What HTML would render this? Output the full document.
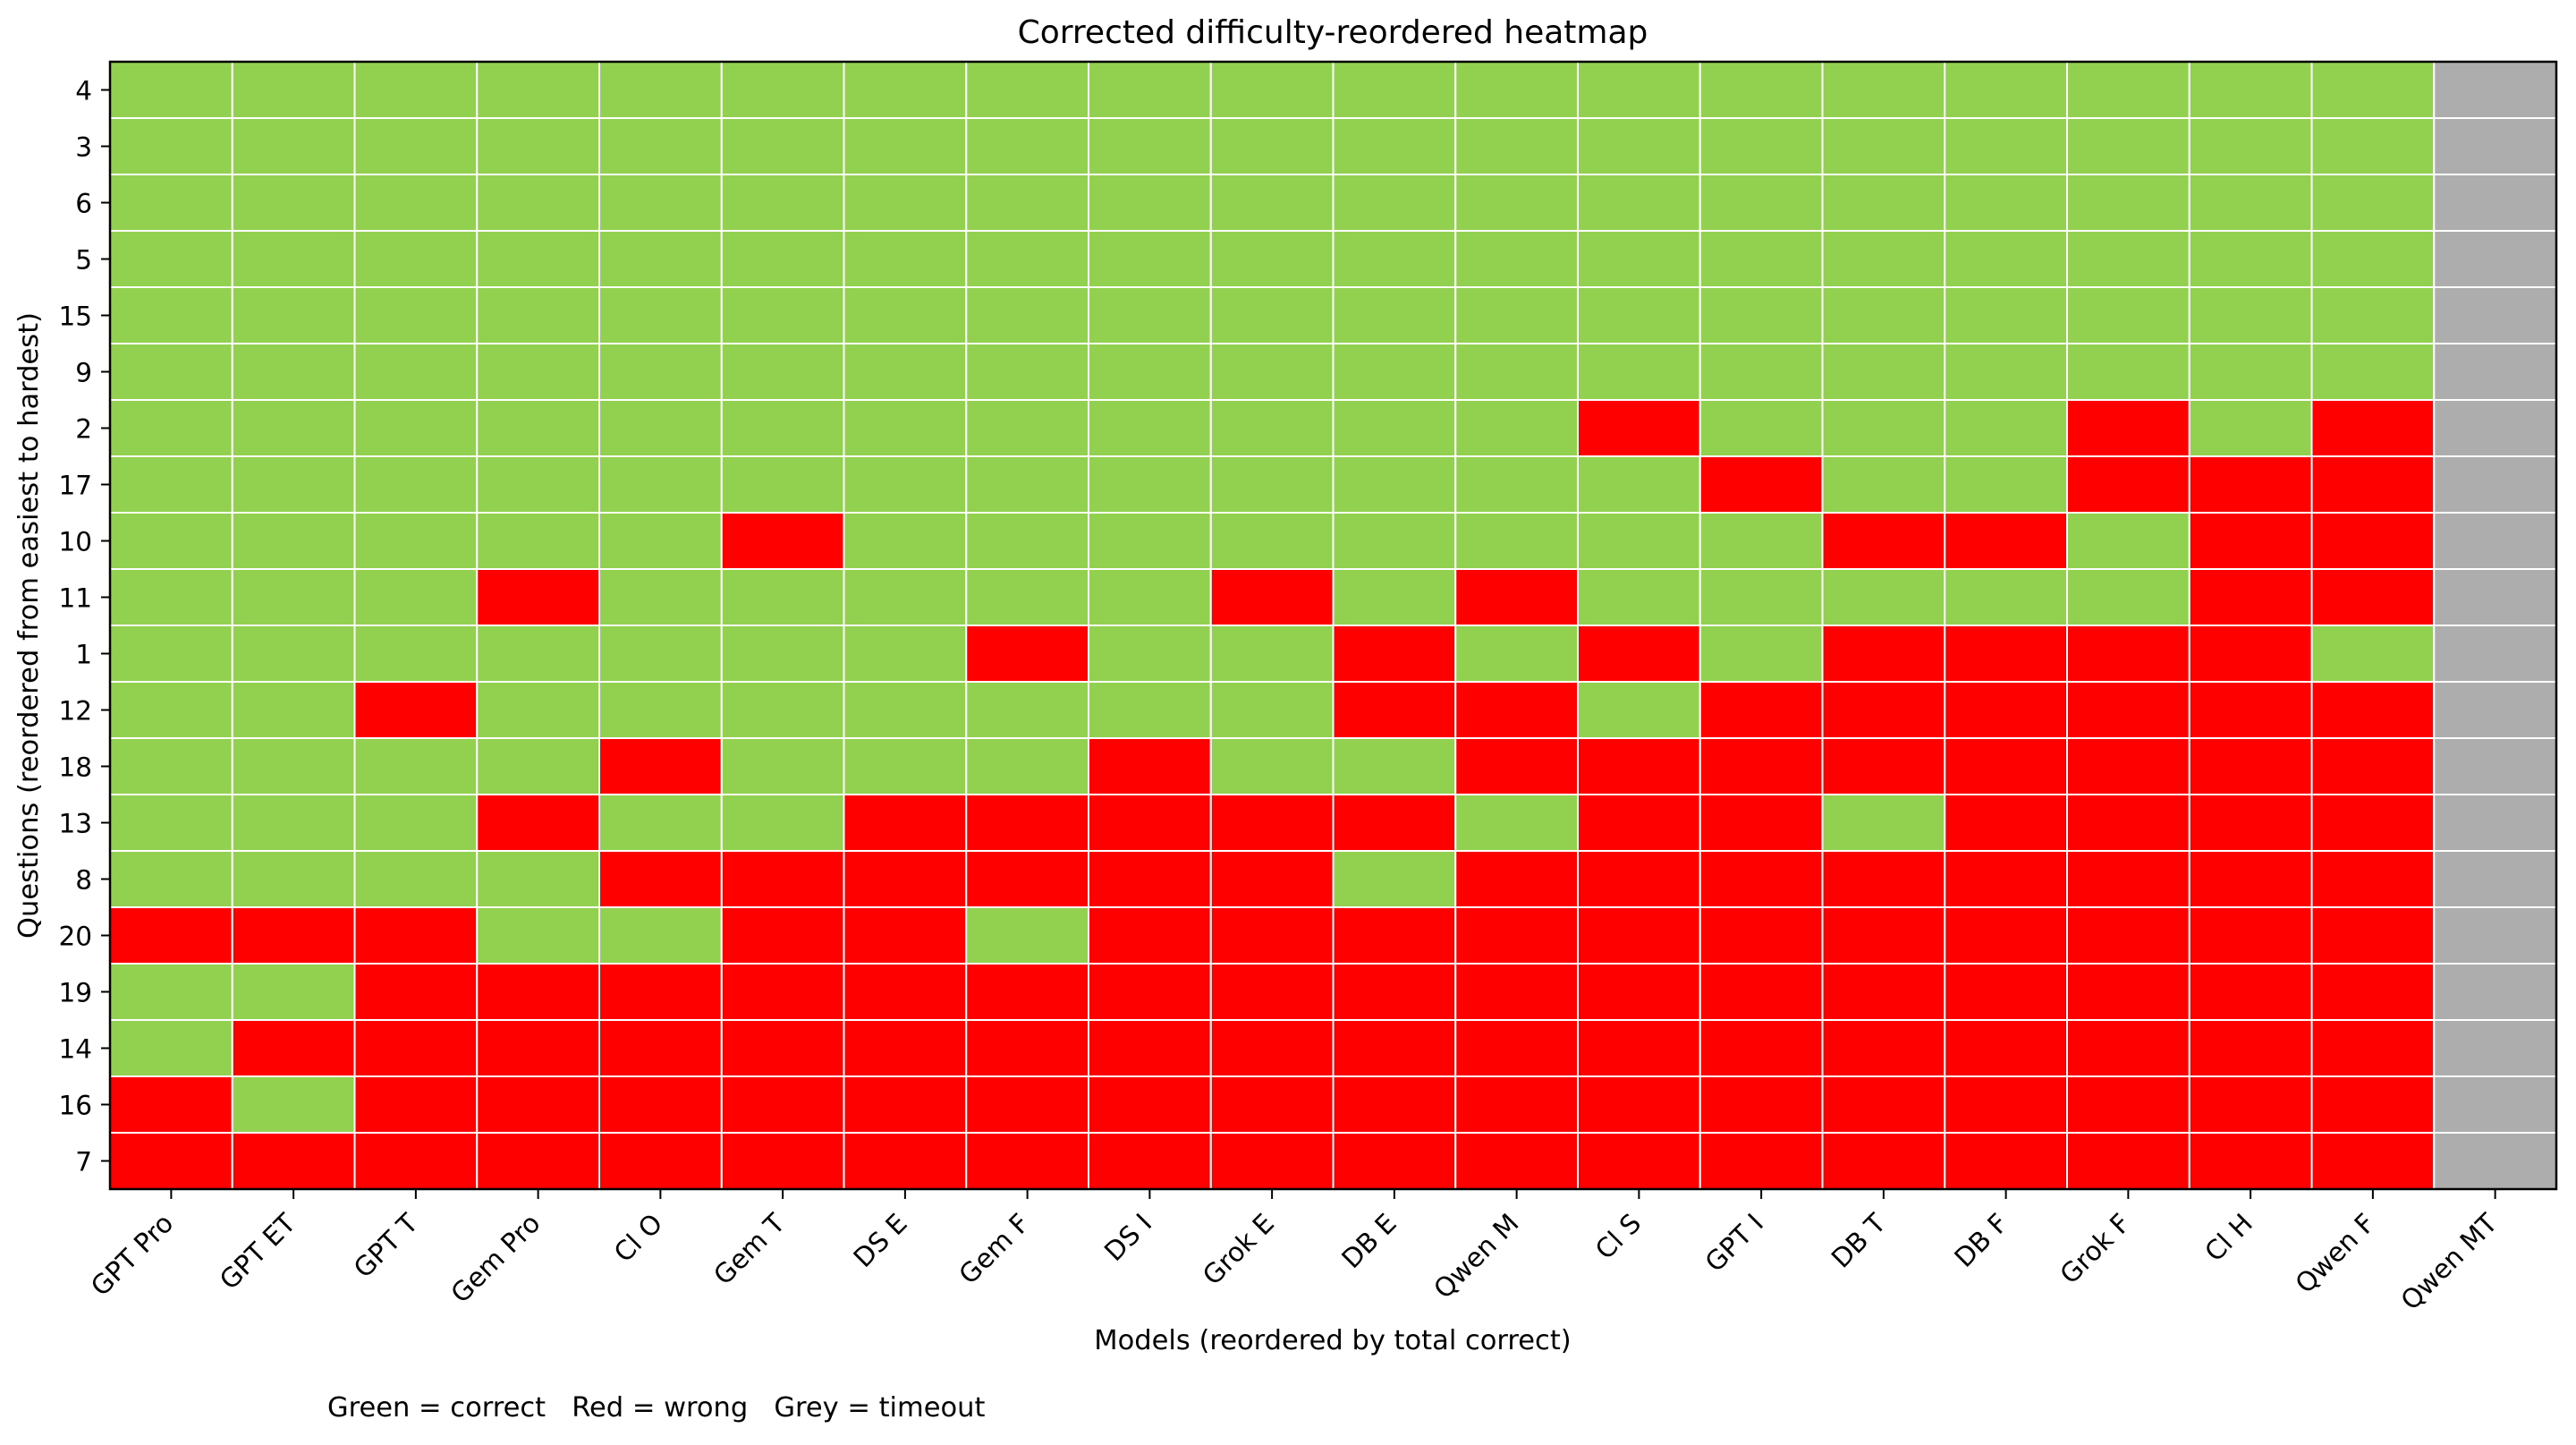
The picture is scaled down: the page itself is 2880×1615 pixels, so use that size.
<!DOCTYPE html>
<html><head><meta charset="utf-8"><style>
html,body{margin:0;padding:0;background:#fff}
svg text{font-family:"DejaVu Sans","Liberation Sans",sans-serif;fill:#000}
</style></head><body>
<svg id="s" width="2880" height="1610" xmlns="http://www.w3.org/2000/svg">
<g id="cells"></g>
<rect x="123" y="69" width="2735" height="1260" fill="none" stroke="#000" stroke-width="2.5"/>
<g id="ticks"></g>
<text x="1490" y="48" font-size="36" text-anchor="middle">Corrected difficulty-reordered heatmap</text>
<text x="1490" y="1508" font-size="30.5" text-anchor="middle">Models (reordered by total correct)</text>
<text x="366" y="1583" font-size="30.5" xml:space="preserve">Green = correct   Red = wrong   Grey = timeout</text>
<text transform="translate(42,699) rotate(-90)" font-size="30.5" text-anchor="middle">Questions (reordered from easiest to hardest)</text>
</svg>
<script>
var rows=["4","3","6","5","15","9","2","17","10","11","1","12","18","13","8","20","19","14","16","7"];
var cols=["GPT Pro","GPT ET","GPT T","Gem Pro","Cl O","Gem T","DS E","Gem F","DS I","Grok E","DB E","Qwen M","Cl S","GPT I","DB T","DB F","Grok F","Cl H","Qwen F","Qwen MT"];
var data=[
"GGGGGGGGGGGGGGGGGGG",
"GGGGGGGGGGGGGGGGGGG",
"GGGGGGGGGGGGGGGGGGG",
"GGGGGGGGGGGGGGGGGGG",
"GGGGGGGGGGGGGGGGGGG",
"GGGGGGGGGGGGGGGGGGG",
"GGGGGGGGGGGGRGGGRGR",
"GGGGGGGGGGGGGRGGRRR",
"GGGGGRGGGGGGGGRRGRR",
"GGGRGGGGGRGRGGGGGRR",
"GGGGGGGRGGRGRGRRRRG",
"GGRGGGGGGGRRGRRRRRR",
"GGGGRGGGRGGRRRRRRRR",
"GGGRGGRRRRRGRRGRRRR",
"GGGGRRRRRRGRRRRRRRR",
"RRRGGRRGRRRRRRRRRRR",
"GGRRRRRRRRRRRRRRRRR",
"GRRRRRRRRRRRRRRRRRR",
"RGRRRRRRRRRRRRRRRRR",
"RRRRRRRRRRRRRRRRRRR"];
var X0=123,Y0=69,CW=2735/20,RH=1260/20,h="",t="";
for(var r=0;r<20;r++)for(var c=0;c<20;c++){
 var col=c==19?"#adadad":(data[r][c]=="G"?"#92d050":"#ff0000");
 h+='<rect x="'+(X0+c*CW)+'" y="'+(Y0+r*RH)+'" width="'+CW+'" height="'+RH+'" fill="'+col+'" stroke="#fff" stroke-width="2"/>';
}
for(var r=0;r<20;r++){var y=Y0+(r+0.5)*RH;
 t+='<line x1="113" x2="123" y1="'+y+'" y2="'+y+'" stroke="#000" stroke-width="2"/>';
 t+='<text x="103" y="'+(y+11)+'" font-size="29.5" text-anchor="end">'+rows[r]+'</text>';}
for(var c=0;c<20;c++){var x=X0+(c+0.5)*CW;
 t+='<line x1="'+x+'" x2="'+x+'" y1="1329" y2="1340" stroke="#000" stroke-width="2"/>';
 t+='<text transform="translate('+(x+4)+',1369) rotate(-45)" font-size="29.5" text-anchor="end">'+cols[c]+'</text>';}
document.getElementById("cells").innerHTML=h;
document.getElementById("ticks").innerHTML=t;
</script>
</body></html>
